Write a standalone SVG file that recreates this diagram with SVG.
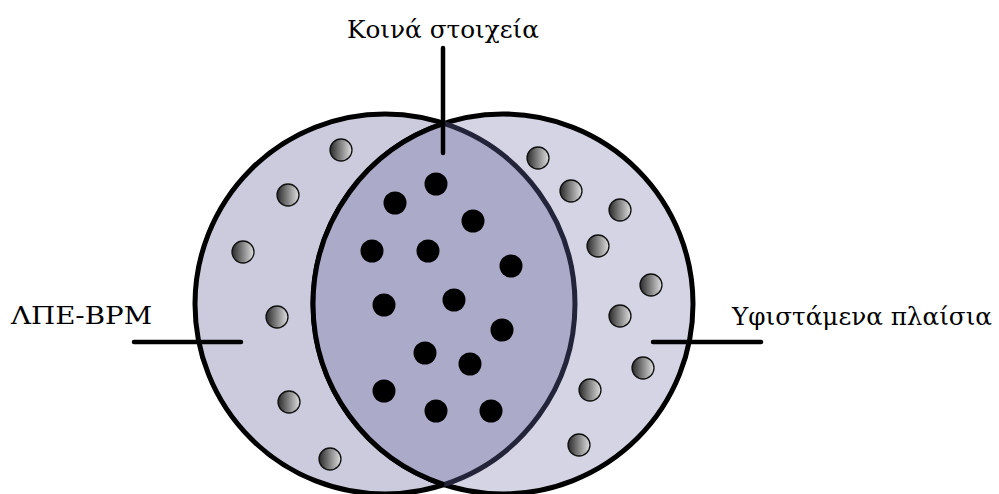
<svg xmlns="http://www.w3.org/2000/svg" width="999" height="494" viewBox="0 0 999 494">
  <defs>
    <linearGradient id="ball" x1="0" y1="0" x2="1" y2="0">
      <stop offset="0" stop-color="#2a2a2a"/>
      <stop offset="1" stop-color="#e0e0e0"/>
    </linearGradient>
    <style>
      .conn { stroke: #000; stroke-width: 4.5; stroke-linecap: round; fill: none; }
      .gray { fill: url(#ball); stroke: #111; stroke-width: 1.3; }
      .black { fill: #000; }
      .rim { stroke: #000; stroke-width: 5; }
    </style>
  </defs>
  <rect width="999" height="494" fill="#fff"/>

  <g id="left-set">
    <circle cx="385" cy="304" r="190" fill="#cbcbdd" class="rim"/>
  </g>
  <g id="right-set">
    <circle cx="503" cy="304" r="190" fill="#d4d4e4" class="rim"/>
  </g>
  <g id="common">
    <path d="M444 123.4 A190 190 0 0 1 444 484.6 A190 190 0 0 1 444 123.4 Z" fill="#ababc9"/>
    <path d="M444 123.4 A190 190 0 0 1 444 484.6" fill="none" stroke="#23233a" stroke-width="5"/>
    <path d="M444 484.6 A190 190 0 0 1 444 123.4" fill="none" stroke="#000" stroke-width="5"/>
  </g>

  <g id="left-items">
    <circle class="gray" cx="341" cy="150" r="11"/>
    <circle class="gray" cx="288" cy="195" r="11"/>
    <circle class="gray" cx="243" cy="252" r="11"/>
    <circle class="gray" cx="277" cy="317" r="11"/>
    <circle class="gray" cx="289" cy="402" r="11"/>
    <circle class="gray" cx="330" cy="459" r="11"/>
  </g>
  <g id="right-items">
    <circle class="gray" cx="538" cy="158" r="11"/>
    <circle class="gray" cx="571" cy="191" r="11"/>
    <circle class="gray" cx="620" cy="210" r="11"/>
    <circle class="gray" cx="598" cy="246" r="11"/>
    <circle class="gray" cx="651" cy="285" r="11"/>
    <circle class="gray" cx="620" cy="316" r="11"/>
    <circle class="gray" cx="643" cy="368" r="11"/>
    <circle class="gray" cx="590" cy="390" r="11"/>
    <circle class="gray" cx="579" cy="445" r="11"/>
  </g>
  <g id="common-items">
    <circle class="black" cx="436" cy="184" r="11.5"/>
    <circle class="black" cx="395" cy="203" r="11.5"/>
    <circle class="black" cx="473" cy="221" r="11.5"/>
    <circle class="black" cx="372" cy="251" r="11.5"/>
    <circle class="black" cx="428" cy="251" r="11.5"/>
    <circle class="black" cx="511" cy="266" r="11.5"/>
    <circle class="black" cx="384" cy="305" r="11.5"/>
    <circle class="black" cx="454" cy="300" r="11.5"/>
    <circle class="black" cx="502" cy="330" r="11.5"/>
    <circle class="black" cx="425" cy="353" r="11.5"/>
    <circle class="black" cx="470" cy="364" r="11.5"/>
    <circle class="black" cx="384" cy="391" r="11.5"/>
    <circle class="black" cx="436" cy="411" r="11.5"/>
    <circle class="black" cx="491" cy="411" r="11.5"/>
  </g>

  <g id="connectors">
    <line class="conn" x1="443" y1="48" x2="443" y2="153"/>
    <line class="conn" x1="134" y1="342" x2="241" y2="342"/>
    <line class="conn" x1="653" y1="342" x2="761" y2="342"/>
  </g>

  <g font-family="'DejaVu Serif', 'Liberation Serif', serif" font-size="24" fill="#000">
    <g id="label-common">
      <text x="347" y="38" textLength="192" lengthAdjust="spacingAndGlyphs">Κοινά στοιχεία</text>
    </g>
    <g id="label-left">
      <text x="11" y="324" textLength="141" lengthAdjust="spacingAndGlyphs">ΛΠΕ-ΒΡΜ</text>
    </g>
    <g id="label-right">
      <text x="732" y="325" textLength="260" lengthAdjust="spacingAndGlyphs">Υφιστάμενα πλαίσια</text>
    </g>
  </g>
</svg>
